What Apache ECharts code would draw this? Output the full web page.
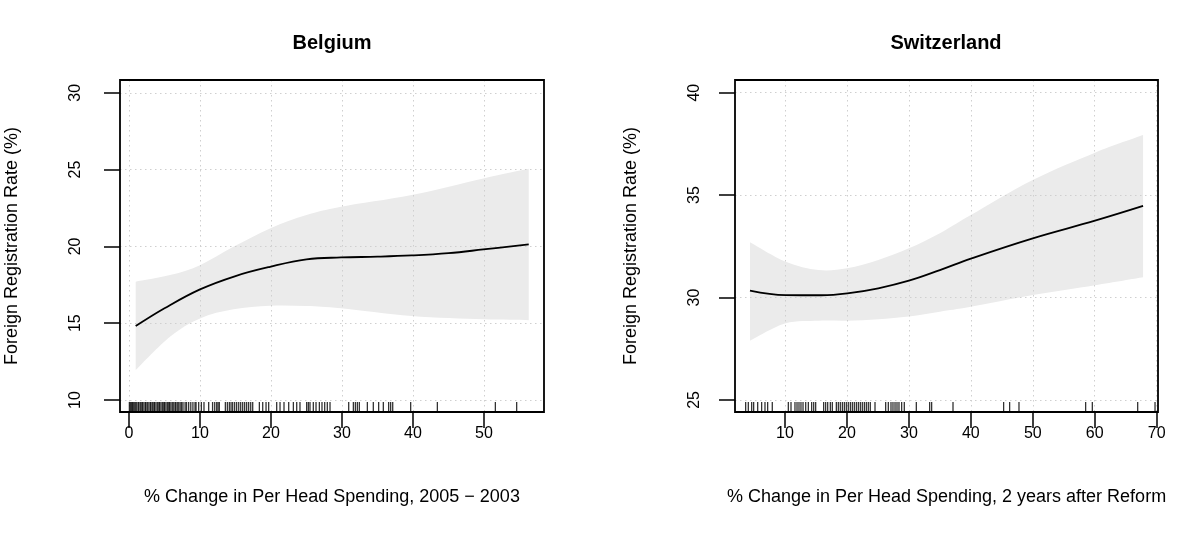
<!DOCTYPE html>
<html><head><meta charset="utf-8">
<script src="https://cdn.jsdelivr.net/npm/echarts@6/dist/echarts.min.js"></script>
<style>html,body{margin:0;padding:0;background:#fff}#c{width:1181px;height:535px}</style>
</head><body><div id="c"></div>
<script>
// ---------- Belgium ----------
const beTitle = 'Belgium';
const beXName = '% Change in Per Head Spending, 2005 \u2212 2003';
const beFitX = [0.94, 5, 10, 15, 19.86, 25, 29.86, 35, 39.8, 45, 49.9, 56.3];
const beFitY = [14.81, 15.97, 17.2, 18.07, 18.67, 19.15, 19.28, 19.33, 19.41, 19.56, 19.8, 20.13];
const beBandX = [0.94, 5.77, 10, 14.7, 19.86, 25, 29.86, 39.8, 49.9, 56.3];
const beBandLo = [11.95, 14.12, 15.31, 15.9, 16.14, 16.12, 15.97, 15.47, 15.25, 15.2];
const beBandHi = [17.70, 18.13, 18.78, 19.97, 21.17, 22.04, 22.58, 23.34, 24.42, 25.05];
const beRug = [0.05, 0.2, 0.35, 0.5, 0.6, 0.8, 0.95, 1.1, 1.3, 1.4, 1.6, 1.8, 1.9, 2.1, 2.3, 2.4, 2.6, 2.8, 3.0, 3.1, 3.3, 3.5, 3.6, 3.8, 4.0, 4.2, 4.3, 4.5, 4.7, 4.9, 5.0, 5.2, 5.4, 5.6, 5.7, 5.9, 6.1, 6.3, 6.5, 6.6, 6.8, 7.0, 7.2, 7.4, 7.6, 7.9, 8.1, 8.4, 8.7, 9.0, 9.3,
  9.44, 9.81, 10.19, 10.56, 11.22, 11.77, 12.07, 12.35, 12.54, 12.72,
  13.57, 13.85, 14.13, 14.37, 14.6, 14.88, 15.16, 15.45, 15.73, 16.01, 16.29, 16.57, 16.85, 17.14, 17.42,
  18.36, 18.83, 19.3, 19.67, 20.8, 21.27, 21.83, 22.49, 23.15, 23.62, 24.08,
  25.02, 25.26, 25.49, 25.96, 26.34, 26.81, 27.18, 27.56, 27.93, 28.31,
  30.94, 31.6, 31.88, 32.16, 32.44, 33.57, 34.41, 35.16, 35.82, 36.57, 36.85, 37.14,
  39.67, 43.43, 51.6, 54.6];
const beXTicks = [0, 10, 20, 30, 40, 50];
const beYTicks = [10, 15, 20, 25, 30];

// ---------- Switzerland ----------
const chTitle = 'Switzerland';
const chXName = '% Change in Per Head Spending, 2 years after Reform';
const chFitX = [4.35, 10.1, 15.9, 20.06, 25.06, 30, 35, 40, 50, 60.04, 67.8];
const chFitY = [30.34, 30.12, 30.11, 30.2, 30.45, 30.82, 31.34, 31.9, 32.89, 33.75, 34.47];
const chBandX = [4.35, 10.1, 15.4, 20.06, 25.06, 30, 35, 40, 50, 60.04, 67.8];
const chBandLo = [27.89, 28.74, 28.87, 28.87, 28.94, 29.07, 29.31, 29.55, 30.12, 30.60, 30.99];
const chBandHi = [32.70, 31.75, 31.34, 31.43, 31.83, 32.40, 33.14, 34.03, 35.74, 37.07, 37.93];
const chRug = [3.65, 4.08, 4.62, 4.94, 5.59, 6.23, 6.77, 7.2, 7.95,
  10.54, 10.97, 11.61, 11.94, 12.26, 12.58, 12.91, 13.34, 13.77, 14.30, 14.63, 14.95,
  16.24, 16.56, 16.89, 17.32, 17.64, 18.29, 18.61, 18.93, 19.26, 19.58, 19.9, 20.22, 20.55, 20.87,
  21.19, 21.52, 21.84, 22.16, 22.48, 22.81, 23.13, 23.45, 23.77, 24.53,
  26.25, 26.68, 27.11, 27.43, 27.76, 28.08, 28.4, 28.83, 29.26,
  31.2, 33.35, 33.67, 37.12, 45.29, 46.26, 47.77, 58.53, 59.61, 66.93, 69.73];
const chXTicks = [10, 20, 30, 40, 50, 60, 70];
const chYTicks = [25, 30, 35, 40];

const yName = 'Foreign Registration Rate (%)';

// ---------- layout / style ----------
const F = '"Liberation Sans", Arial, Helvetica, sans-serif';
const FS = 16;      // tick labels
const FL = 18;      // axis titles
const ranges = {
  be: {x: [-1.27, 58.45], y: [9.22, 30.83]},
  ch: {x: [1.93, 70.21], y: [24.41, 40.62]}
};

const zip = (a, b) => a.map((v, i) => [v, b[i]]);

// Catmull-Rom spline through pixel points -> SVG cubic segments
function spline(p) {
  let s = '';
  for (let i = 0; i < p.length - 1; i++) {
    const p0 = p[Math.max(i - 1, 0)], p1 = p[i], p2 = p[i + 1], p3 = p[Math.min(i + 2, p.length - 1)];
    const c1 = [p1[0] + (p2[0] - p0[0]) / 6, p1[1] + (p2[1] - p0[1]) / 6];
    const c2 = [p2[0] - (p3[0] - p1[0]) / 6, p2[1] - (p3[1] - p1[1]) / 6];
    s += ' C' + c1[0] + ' ' + c1[1] + ' ' + c2[0] + ' ' + c2[1] + ' ' + p2[0] + ' ' + p2[1];
  }
  return s;
}
function bandRender(bandX, lo, hi) {
  return function (params, api) {
    if (params.dataIndex !== 0) return null;
    const up = bandX.map((x, k) => api.coord([x, hi[k]]));
    const dn = bandX.map((x, k) => api.coord([x, lo[k]])).reverse();
    const d = 'M' + up[0][0] + ' ' + up[0][1] + spline(up) +
              ' L' + dn[0][0] + ' ' + dn[0][1] + spline(dn) + ' Z';
    return {type: 'path', shape: {pathData: d}, style: {fill: '#EBEBEB', stroke: null}};
  };
}

function xAx(gi, r, ticks, name) {
  return {
    type: 'value', gridIndex: gi, min: r[0], max: r[1], z: 2,
    name: name, nameLocation: 'middle', nameGap: 76,
    nameTextStyle: {fontSize: FL, color: '#000', fontFamily: F},
    axisLine: {show: false, onZero: false},
    axisTick: {show: true, length: 16, customValues: ticks, lineStyle: {color: '#000', width: 1.5}},
    axisLabel: {customValues: ticks, fontSize: FS, color: '#000', fontFamily: F, margin: 14},
    splitLine: {show: true, lineStyle: {color: '#cfcfcf', width: 1, type: [1.5, 3.5]}}
  };
}
function yAx(gi, r, ticks, name, labelMargin, nameGap) {
  return {
    type: 'value', gridIndex: gi, min: r[0], max: r[1], z: 2,
    name: name, nameLocation: 'middle', nameGap: nameGap, nameRotate: 90,
    nameTextStyle: {fontSize: FL, color: '#000', fontFamily: F},
    axisLine: {show: false, onZero: false},
    axisTick: {show: true, length: 16, customValues: ticks, lineStyle: {color: '#000', width: 1.5}},
    axisLabel: {customValues: ticks, fontSize: FS, color: '#000', fontFamily: F, rotate: 90, margin: labelMargin},
    splitLine: {show: true, lineStyle: {color: '#cfcfcf', width: 1, type: [1.5, 3.5]}}
  };
}
function panelSeries(i, bandX, lo, hi, fitX, fitY, rug, yMin) {
  return [
    {type: 'custom', xAxisIndex: i, yAxisIndex: i, data: zip(bandX, hi), renderItem: bandRender(bandX, lo, hi),
     silent: true, z: 1},
    {type: 'line', xAxisIndex: i, yAxisIndex: i, data: zip(fitX, fitY), symbol: 'none', smooth: 0.4,
     lineStyle: {color: '#000', width: 1.8}, silent: true, z: 3},
    {type: 'scatter', xAxisIndex: i, yAxisIndex: i, data: rug.map(v => [v, yMin]), symbol: 'rect',
     symbolSize: [1.3, 10], symbolOffset: [0, -5], itemStyle: {color: '#000'}, silent: true, z: 3}
  ];
}

const chart = echarts.init(document.getElementById('c'), null, {renderer: 'canvas'});
chart.setOption({
  animation: false,
  backgroundColor: '#fff',
  textStyle: {fontFamily: F},
  title: [
    {text: beTitle, left: 332, top: 33, textAlign: 'center', padding: 0,
     textStyle: {fontSize: 20, fontWeight: 'bold', color: '#000', fontFamily: F}},
    {text: chTitle, left: 946, top: 33, textAlign: 'center', padding: 0,
     textStyle: {fontSize: 20, fontWeight: 'bold', color: '#000', fontFamily: F}}
  ],
  grid: [
    {left: 120, top: 80, width: 424, height: 332, show: true, z: 10, borderColor: '#000', borderWidth: 1.8, backgroundColor: 'transparent'},
    {left: 735, top: 80, width: 423, height: 332, show: true, z: 10, borderColor: '#000', borderWidth: 1.8, backgroundColor: 'transparent'}
  ],
  xAxis: [xAx(0, ranges.be.x, beXTicks, beXName), xAx(1, ranges.ch.x, chXTicks, chXName)],
  yAxis: [yAx(0, ranges.be.y, beYTicks, yName, 36, 99), yAx(1, ranges.ch.y, chYTicks, yName, 32, 95)],
  series: [].concat(
    panelSeries(0, beBandX, beBandLo, beBandHi, beFitX, beFitY, beRug, ranges.be.y[0]),
    panelSeries(1, chBandX, chBandLo, chBandHi, chFitX, chFitY, chRug, ranges.ch.y[0])
  )
});
</script></body></html>
